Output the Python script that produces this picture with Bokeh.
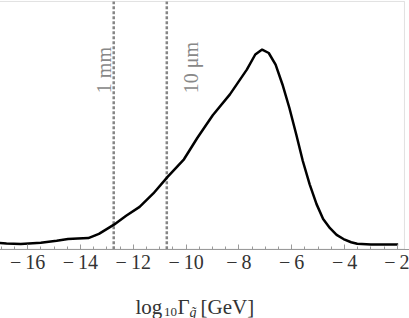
import math
from bokeh.plotting import figure
from bokeh.models import Range1d, FixedTicker, Label, BoxAnnotation
from bokeh.embed import file_html
from bokeh.resources import INLINE

# ---- data ----
log_gamma = [-17.29, -16.8, -16.26, -15.5, -14.9, -14.47, -14.1, -13.7, -13.3, -12.73,
             -12.27, -11.76, -11.24, -10.70, -10.08, -9.57, -8.99, -8.34, -7.70, -7.38,
             -7.12, -6.87, -6.61, -6.35, -6.09, -5.83, -5.58, -5.32, -5.06, -4.81,
             -4.55, -4.30, -4.04, -3.75, -3.52, -3.0, -2.5, -1.97]
density = [0.027, 0.023, 0.021, 0.026, 0.034, 0.041, 0.043, 0.045, 0.062, 0.099,
           0.135, 0.171, 0.225, 0.292, 0.363, 0.450, 0.541, 0.625, 0.725, 0.786,
           0.806, 0.792, 0.745, 0.665, 0.571, 0.464, 0.356, 0.262, 0.182, 0.122,
           0.085, 0.058, 0.041, 0.028, 0.022, 0.019, 0.019, 0.019]

decay_lines = [-12.74, -10.73]
decay_labels = ["1 mm", "10 μm"]

major_ticks = [-16, -14, -12, -10, -8, -6, -4, -2]
minor_ticks = [v / 2 for v in range(-34, -3)]
tick_labels = ["−\u200916", "−\u200914", "−\u200912", "−\u200910",
               "−\u20098", "−\u20096", "−\u20094", "−\u20092"]

x_lo, x_hi = -17.29, -1.73   # plotted box limits
y_top = 1.0

SERIF = "Times New Roman"

p = figure(width=417, height=319, output_backend="svg", toolbar_location=None,
           x_range=Range1d(-17.33, -1.54), y_range=Range1d(-0.2797, 1.008),
           min_border_left=0, min_border_right=0, min_border_top=0, min_border_bottom=0)
p.styles = {"margin-left": "-8px", "margin-top": "-1px"}
p.background_fill_color = "white"
p.border_fill_color = "white"
p.outline_line_color = None
p.grid.visible = False
p.yaxis.visible = False

# frame box (top/left/right borders, bottom = axis)
p.add_layout(BoxAnnotation(bottom=0, top=y_top, left=x_lo, right=x_hi, fill_alpha=0,
                           line_color="#9a9a9a", line_width=1))

ax = p.xaxis[0]
ax.fixed_location = 0
ax.ticker = FixedTicker(ticks=major_ticks, minor_ticks=minor_ticks)
ax.major_label_overrides = {t: l for t, l in zip(major_ticks, tick_labels)}
ax.axis_line_color = "#9a9a9a"
ax.major_tick_line_color = "#9a9a9a"
ax.minor_tick_line_color = "#9a9a9a"
ax.major_tick_in = 5
ax.major_tick_out = 0
ax.minor_tick_in = 3
ax.minor_tick_out = 0
ax.major_label_text_font = SERIF
ax.major_label_text_font_size = "20px"
ax.major_label_text_color = "#333333"
ax.major_label_standoff = 2

p.segment(x0=decay_lines, y0=[0, 0], x1=decay_lines, y1=[y_top, y_top],
          line_color="#858585", line_width=2.5, line_dash="3 2")
for xv, txt, off in zip(decay_lines, decay_labels, [-10, 24]):
    p.add_layout(Label(x=xv, y=0.63, x_offset=off, text=txt, angle=math.pi / 2,
                       text_align="left", text_baseline="alphabetic",
                       text_font=SERIF, text_font_size="20px", text_color="#888888"))

p.line(log_gamma, density, line_color="black", line_width=2.5)

# x-axis label built from pieces: log_10 Γ_g̃ [GeV]  (screen units: from frame bottom-left)
pieces = [("log", 143, 11.3, "21px", "normal"),
          ("10", 171.5, 6.3, "13px", "normal"),
          ("Γ", 185, 11.3, "21px", "normal"),
          ("g̃", 197, 6.5, "14px", "italic"),
          ("[GeV]", 208, 11.3, "21px", "normal")]
for txt, sx, sy, fs, st in pieces:
    p.add_layout(Label(x=sx, y=sy, x_units="screen", y_units="screen", text=txt,
                       text_align="left", text_baseline="alphabetic",
                       text_font=SERIF, text_font_size=fs, text_font_style=st,
                       text_color="#333333"))

open("out.html", "w").write(file_html(p, INLINE))
